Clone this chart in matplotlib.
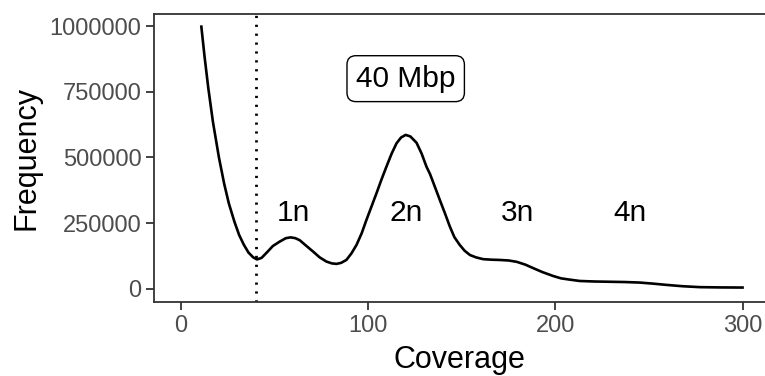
import matplotlib.pyplot as plt

# values
coverage = [10.8, 12.5, 14.5, 17, 20.2, 23, 25.5, 28.5, 31, 33.5, 36, 38.5, 40.5, 43, 46,
            49, 52.7, 56, 58.5, 61, 63.4, 67, 70.5, 74, 77.6, 80.5, 83, 85.5, 88.3, 91,
            93.7, 96.5, 99, 101.7, 104.4, 107, 109.7, 112.5, 115.1, 117.5, 120, 122.5,
            125.8, 128.5, 131.1, 133, 135.5, 138.2, 141, 143.6, 146, 148.9, 151.5, 154.3,
            157.5, 161.4, 166, 170.3, 175, 179.3, 184, 188.1, 193, 198.8, 203, 207.8, 213,
            221, 229, 237, 245, 252, 259.5, 268, 277.3, 288, 300]
frequency = [998000, 885000, 765000, 635000, 500000, 400000, 325000, 255000, 205000,
             168000, 138000, 120000, 112000, 118000, 140000, 163000, 180000, 193000,
             196000, 193000, 185000, 163000, 142000, 120000, 104000, 97000, 95000, 99000,
             110000, 135000, 167000, 212000, 262000, 313000, 364000, 415000, 465000,
             515000, 554000, 576000, 586000, 580000, 556000, 515000, 465000, 437000,
             390000, 339000, 287000, 237000, 197000, 167000, 145000, 129000, 120000,
             113000, 111000, 110000, 108000, 103000, 92000, 79000, 64000, 49000, 40000,
             35000, 30000, 28000, 27000, 26000, 24000, 20000, 15000, 10000, 6500, 5500, 5000]
cutoff = 40
peak_names = ["1n", "2n", "3n", "4n"]
peak_x = [60, 120, 180, 240]
peak_y = 290000
size_label = "40 Mbp"

plt.rcParams['font.family'] = ['Liberation Sans', 'DejaVu Sans']

fig = plt.figure(figsize=(7.65, 3.76), dpi=100)
ax = fig.add_axes([154 / 765, 74 / 376, 611 / 765, 288.5 / 376])

ax.plot(coverage, frequency, color="black", lw=1.9, solid_joinstyle="round")
ax.axvline(cutoff, color="black", lw=2, linestyle=(0, (0.8, 2.4)))

for name, px in zip(peak_names, peak_x):
    ax.text(px, peak_y, name, fontsize=21.5, ha="center", va="center")

ax.text(120, 800000, size_label, fontsize=21.5, ha="center", va="center",
        bbox=dict(boxstyle="round,pad=0.3,rounding_size=0.3", fc="white", ec="black", lw=1))

ax.set_xlim(-14.5, 312)
ax.set_ylim(-50000, 1048000)
ax.set_xticks([0, 100, 200, 300])
ax.set_yticks([0, 250000, 500000, 750000, 1000000])
ax.set_yticklabels(["0", "250000", "500000", "750000", "1000000"])

for s in ["left", "bottom", "top"]:
    ax.spines[s].set_color("#333333")
    ax.spines[s].set_linewidth(1.3)
ax.spines["right"].set_visible(False)
ax.tick_params(axis="both", colors="#333333", width=1.3, length=6, labelsize=17,
               labelcolor="#4D4D4D", pad=3)

ax.set_xlabel("Coverage", fontsize=22, labelpad=6)
ax.set_ylabel("Frequency", fontsize=22, labelpad=6)

fig.savefig("out.png", dpi=100)
